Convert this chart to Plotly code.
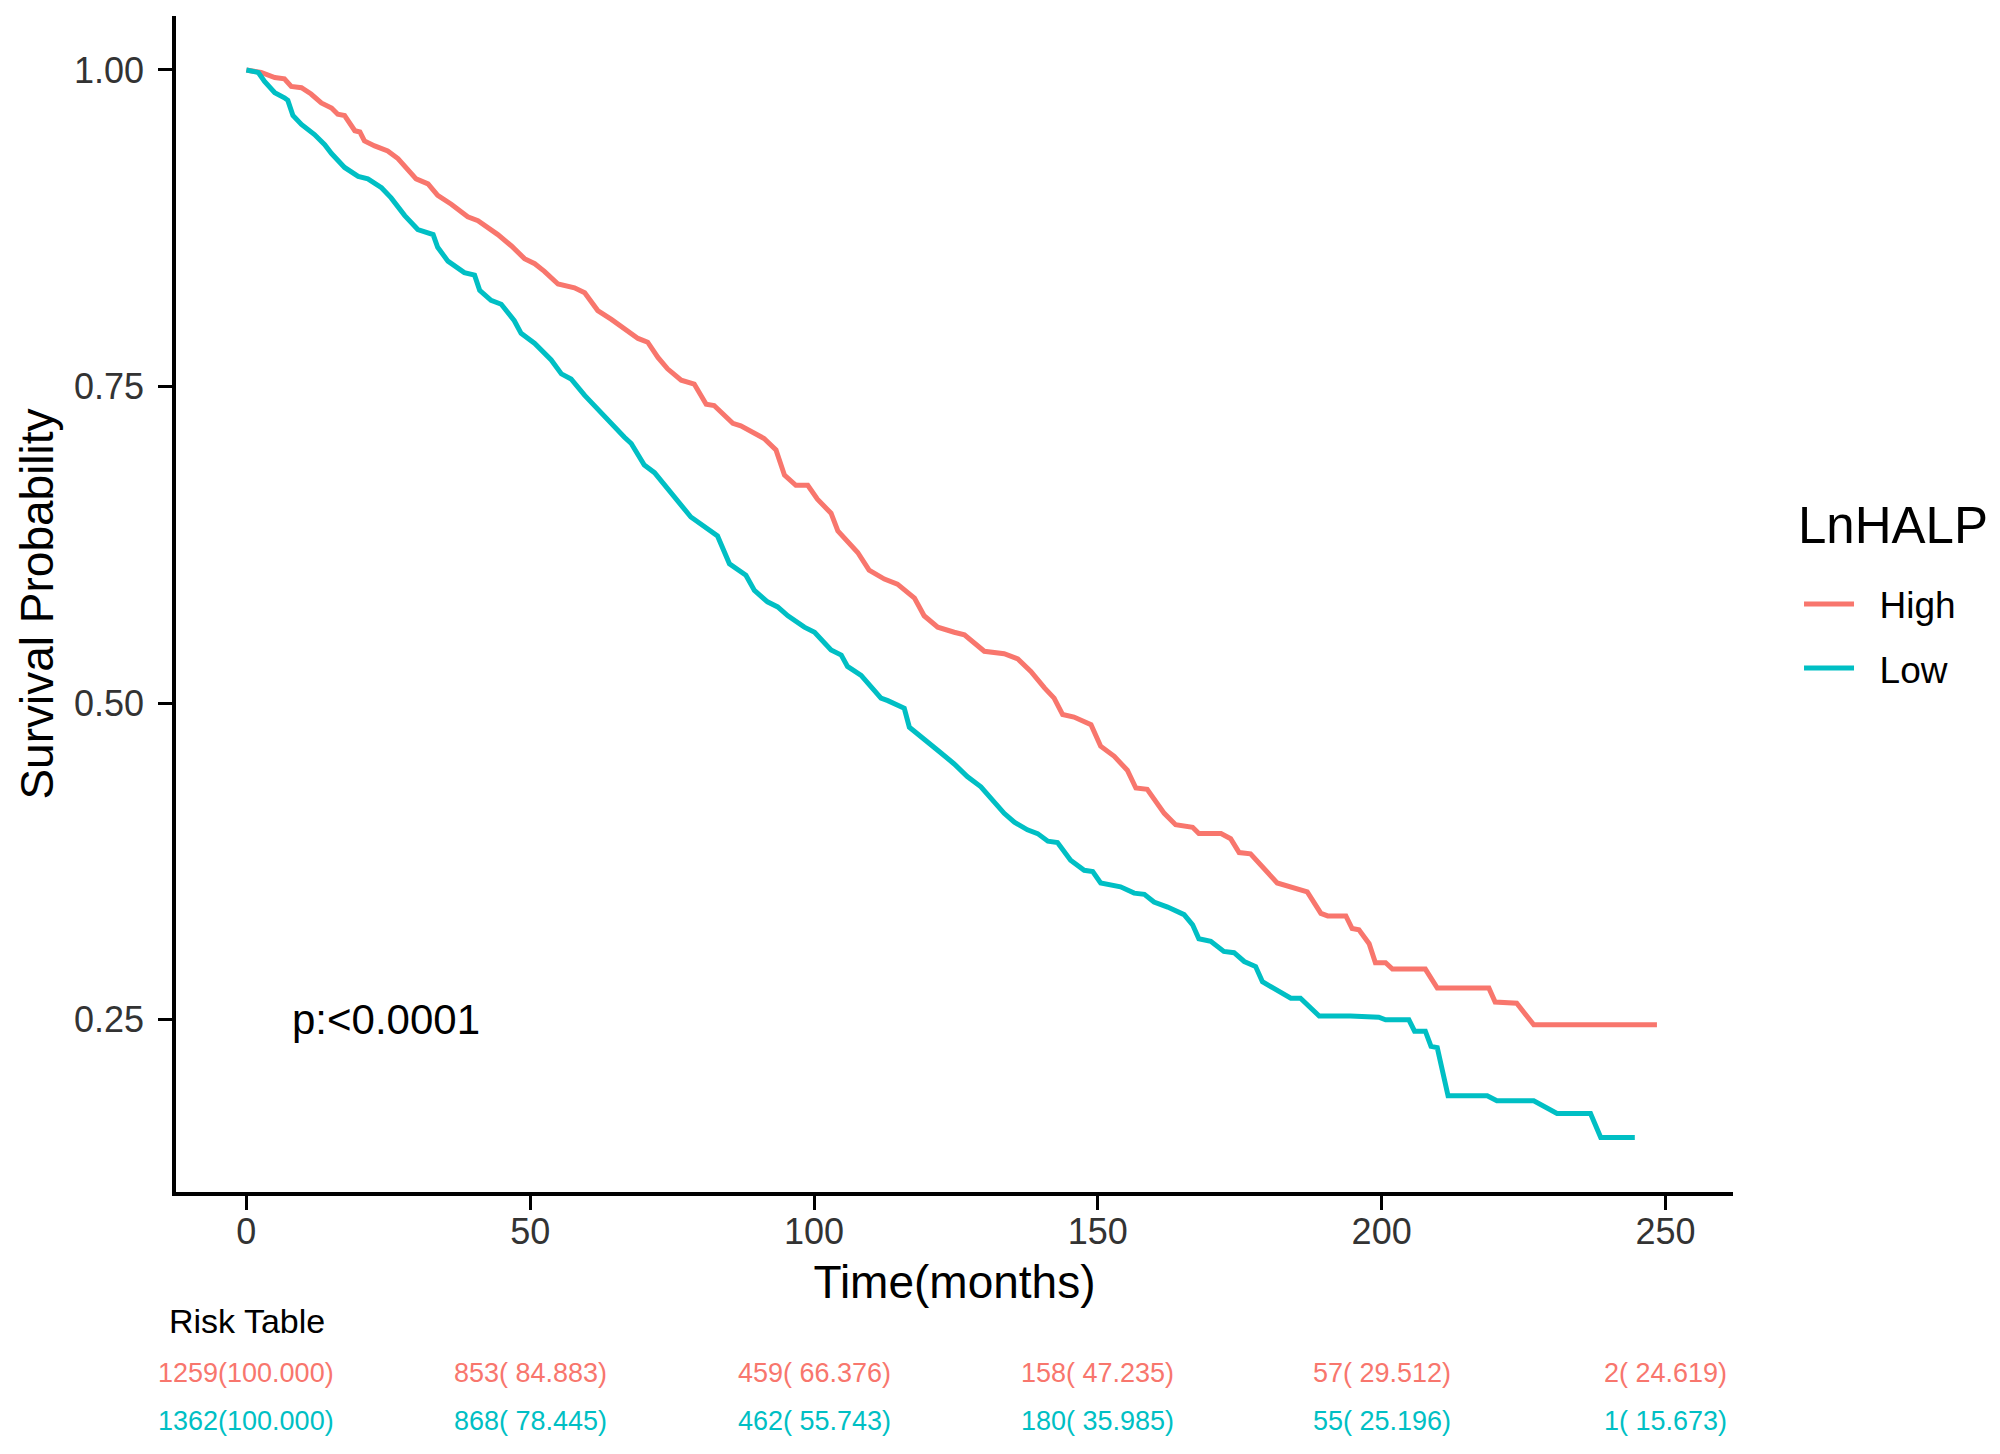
import plotly.graph_objects as go

# ---- Kaplan-Meier curves ----
high_t = [0, 2.6, 5, 6.7, 7.9, 9.7, 11.4, 13.2, 15, 16.1, 17.3, 19.1, 20, 20.8, 22.6, 24.9, 26.7,
          29.9, 32, 33.7, 36.1, 39, 40.8, 44.3, 46.7, 49, 50.8, 52.5, 54.9, 57.8, 59.6, 61.9, 64.3,
          66.6, 69, 70.7, 72.5, 74.2, 76.6, 78.9, 81, 82.4, 85.7, 87.1, 88.9, 91.2, 93.3, 94.8,
          96.8, 98.9, 100.6, 103, 104.2, 107.7, 109.7, 112.4, 114.7, 117.7, 119.4, 121.8, 124.7,
          126.5, 130, 133.5, 135.9, 138.2, 140.6, 142.3, 143.8, 145.8, 148.8, 150.5, 152.9, 155.2,
          156.7, 158.7, 161.7, 163.7, 166.7, 167.8, 171.7, 173.4, 174.9, 176.9, 181.6, 185.7, 186.9,
          189.3, 190.5, 193.7, 194.8, 196, 197.8, 198.9, 200.7, 201.9, 207.7, 209.8, 218.9, 220,
          223.8, 226.8, 248.5]
high_s = [1.0, 0.998, 0.994, 0.993, 0.987, 0.986, 0.981, 0.974, 0.970, 0.965, 0.964, 0.952, 0.951,
          0.944, 0.940, 0.936, 0.930, 0.914, 0.910, 0.901, 0.894, 0.884, 0.881, 0.870, 0.861, 0.851,
          0.847, 0.841, 0.831, 0.828, 0.824, 0.810, 0.803, 0.796, 0.788, 0.785, 0.773, 0.764, 0.755,
          0.752, 0.736, 0.735, 0.721, 0.719, 0.715, 0.709, 0.700, 0.680, 0.672, 0.672, 0.661, 0.650,
          0.636, 0.619, 0.605, 0.598, 0.594, 0.583, 0.569, 0.560, 0.556, 0.554, 0.541, 0.539, 0.535,
          0.525, 0.512, 0.504, 0.491, 0.489, 0.483, 0.466, 0.458, 0.447, 0.433, 0.432, 0.413, 0.404,
          0.402, 0.397, 0.397, 0.393, 0.382, 0.381, 0.358, 0.353, 0.351, 0.334, 0.332, 0.332, 0.322,
          0.321, 0.310, 0.295, 0.295, 0.290, 0.290, 0.275, 0.275, 0.264, 0.263, 0.246, 0.246]

low_t = [0, 2.1, 3.2, 5, 6.7, 7.3, 8.2, 9.7, 12, 13.8, 15, 17.3, 19.7, 21.4, 23.8, 25.5, 27.9, 30.2,
         32.9, 33.7, 35.5, 38.4, 40.2, 41.1, 43.1, 44.9, 47.2, 48.4, 50.8, 53.7, 55.5, 57.2, 59.6,
         63.1, 66.6, 67.8, 70.1, 71.9, 73.6, 75.4, 78.3, 83, 85.1, 88, 89.5, 91.8, 93.6, 95.4, 98.3,
         100.1, 103, 104.8, 105.9, 108.3, 111.8, 113, 115.9, 116.8, 119.4, 122, 124.7, 127, 129.4,
         131.2, 133.5, 135.3, 137.6, 139.4, 141.2, 142.9, 145.2, 147.6, 149.1, 150.5, 152.9, 154,
         156.4, 158.2, 159.9, 162.3, 165.2, 166.7, 167.8, 169.9, 172.2, 174, 175.8, 177.8, 179,
         182.2, 184, 185.7, 186.9, 189, 194.5, 199.5, 200.7, 204.8, 205.8, 207.7, 208.7, 209.8,
         211.7, 218.6, 220.3, 226.8, 230.9, 236.8, 238.6, 244.6]
low_s = [1.0, 0.998, 0.991, 0.982, 0.978, 0.976, 0.964, 0.957, 0.949, 0.941, 0.934, 0.923, 0.916,
         0.914, 0.907, 0.899, 0.885, 0.874, 0.870, 0.860, 0.849, 0.840, 0.838, 0.826, 0.818, 0.815,
         0.802, 0.792, 0.784, 0.771, 0.760, 0.756, 0.743, 0.726, 0.710, 0.705, 0.688, 0.682, 0.673,
         0.663, 0.647, 0.632, 0.610, 0.601, 0.589, 0.580, 0.576, 0.569, 0.560, 0.556, 0.542, 0.538,
         0.529, 0.522, 0.504, 0.502, 0.496, 0.481, 0.472, 0.462, 0.452, 0.442, 0.434, 0.425, 0.413,
         0.406, 0.400, 0.397, 0.391, 0.390, 0.376, 0.368, 0.367, 0.358, 0.356, 0.355, 0.350, 0.349,
         0.343, 0.339, 0.333, 0.325, 0.314, 0.312, 0.304, 0.303, 0.296, 0.292, 0.280, 0.272, 0.267,
         0.267, 0.262, 0.253, 0.253, 0.252, 0.250, 0.250, 0.241, 0.241, 0.229, 0.228, 0.190, 0.190,
         0.186, 0.186, 0.176, 0.176, 0.157, 0.157]

# ---- Risk table ----
risk_times = [0, 50, 100, 150, 200, 250]
high_n = [1259, 853, 459, 158, 57, 2]
high_pct = [100.000, 84.883, 66.376, 47.235, 29.512, 24.619]
low_n = [1362, 868, 462, 180, 55, 1]
low_pct = [100.000, 78.445, 55.743, 35.985, 25.196, 15.673]

x_ticks = [0, 50, 100, 150, 200, 250]
y_ticks = [0.25, 0.50, 0.75, 1.00]
y_tick_text = ["0.25", "0.50", "0.75", "1.00"]

RED = "#F8766D"
CYAN = "#00BFC4"
FONT = "Arial, Liberation Sans, sans-serif"
PAD = "&nbsp;&nbsp;"

fig = go.Figure()
fig.add_trace(go.Scatter(x=high_t, y=high_s, mode="lines", name=PAD + "High", legendgroup="High",
                         line=dict(color=RED, width=5)))
fig.add_trace(go.Scatter(x=low_t, y=low_s, mode="lines", name=PAD + "Low", legendgroup="Low",
                         line=dict(color=CYAN, width=5)))

# p-value
fig.add_annotation(x=24.6, y=0.25, xref="x", yref="y", text="p:<0.0001", showarrow=False,
                   font=dict(family=FONT, size=42, color="black"), xanchor="center", yanchor="middle")

# legend title
fig.add_annotation(x=1.0405, y=0.567, xref="paper", yref="paper", text="LnHALP", showarrow=False,
                   xanchor="left", yanchor="middle", font=dict(family=FONT, size=51, color="black"))

# Risk table
fig.add_annotation(x=-0.006, y=-0.110, xref="paper", yref="paper", text="Risk Table",
                   showarrow=False, xanchor="left", yanchor="middle",
                   font=dict(family=FONT, size=34, color="black"))
for t, n, p in zip(risk_times, high_n, high_pct):
    fig.add_annotation(x=t, y=-0.154, xref="x", yref="paper", text=f"{n}({p:7.3f})".replace(" ", "&nbsp;"),
                       showarrow=False, xanchor="center", yanchor="middle",
                       font=dict(family=FONT, size=27, color=RED))
for t, n, p in zip(risk_times, low_n, low_pct):
    fig.add_annotation(x=t, y=-0.195, xref="x", yref="paper", text=f"{n}({p:7.3f})".replace(" ", "&nbsp;"),
                       showarrow=False, xanchor="center", yanchor="middle",
                       font=dict(family=FONT, size=27, color=CYAN))

axis_common = dict(showline=True, linecolor="black", linewidth=3.5, showgrid=False, zeroline=False,
                   ticks="outside", ticklen=14, tickwidth=3, tickcolor="black",
                   tickfont=dict(family=FONT, size=36, color="#333333"))

fig.update_layout(
    width=2000, height=1454,
    paper_bgcolor="white", plot_bgcolor="white",
    margin=dict(l=168, r=275, t=8, b=270),
    xaxis=dict(range=[-12.4, 261.9], tickvals=x_ticks, ticklabelstandoff=-9,
               title=dict(text="Time(months)", font=dict(family=FONT, size=46, color="black"), standoff=16),
               **axis_common),
    yaxis=dict(range=[0.114, 1.0426], tickvals=y_ticks, ticktext=y_tick_text, ticklabelstandoff=7,
               title=dict(text="Survival Probability", font=dict(family=FONT, size=46, color="black"), standoff=7),
               **axis_common),
    legend=dict(font=dict(family=FONT, size=37, color="black"),
                x=1.0424, y=0.526, xanchor="left", yanchor="top",
                tracegroupgap=13, itemwidth=50, bgcolor="rgba(0,0,0,0)"),
    showlegend=True,
)

fig.write_html("out.html")
